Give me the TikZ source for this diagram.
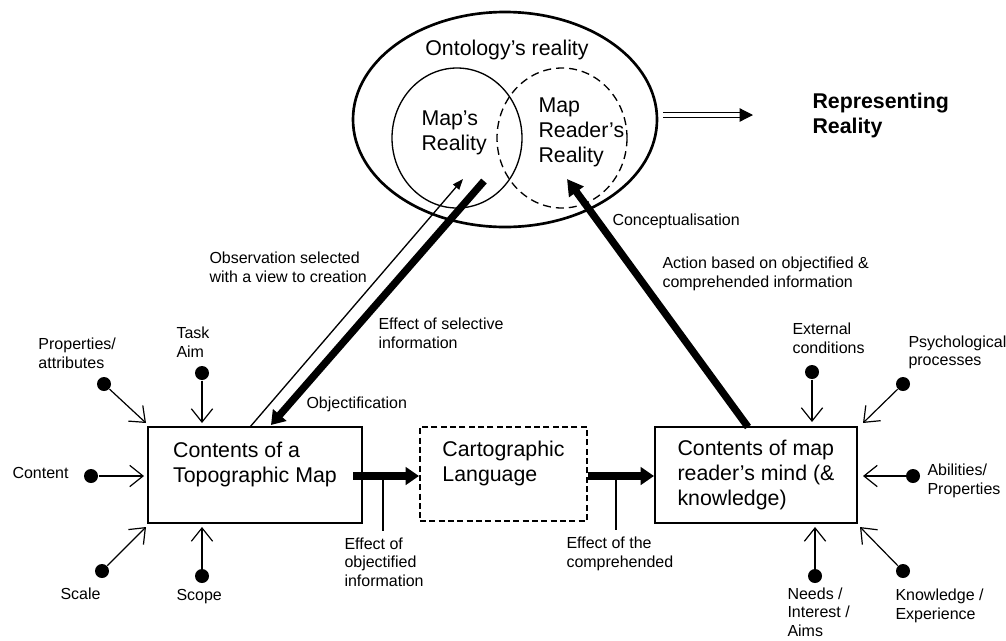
\documentclass[tikz,border=0pt]{standalone}
\usepackage{fontspec}
\setmainfont{Liberation Sans}
\usetikzlibrary{arrows.meta,shapes.geometric}

\tikzset{every picture/.style={line width=0.75pt}}
\tikzset{
  lbl/.style={font=\fontsize{12}{14}\selectfont, inner sep=0pt, align=left, anchor=west},
  bigtxt/.style={font=\fontsize{16}{18.75}\selectfont, inner sep=0pt, align=left},
  mapbox/.style={draw, line width=1.5pt, bigtxt, minimum height=72pt},
  dot/.style={circle, fill=black, inner sep=0pt, minimum size=10.5pt},
  feed/.style={line width=0.9pt, -{Straight Barb[length=5pt,width=8pt,scale=2]}},
  fatarrow/.style={line width=5.5pt, -{Triangle[length=10pt,width=13pt]}},
  tap/.style={line width=1pt}
}

\begin{document}
\begin{tikzpicture}[x=0.75pt,y=0.75pt,yscale=-1,xscale=1]
\useasboundingbox (0,0) rectangle (1006,640);

%Shape: Ellipse [id:onto]
\node [ellipse, draw, line width=2pt, inner sep=0pt, minimum width=228pt, minimum height=161.25pt] (onto) at (505,119.5) {};
%Shape: Ellipse [id:mapreal]
\node [ellipse, draw, line width=1pt, inner sep=0pt, minimum width=97.5pt, minimum height=105pt] (mapreal) at (457,138) {};
%Shape: Ellipse [id:readreal]
\node [ellipse, draw, line width=1pt, dash pattern={on 6pt off 3.75pt}, inner sep=0pt, minimum width=97.5pt, minimum height=105pt] (readreal) at (562,138) {};

% Text Node
\node [bigtxt] (ontotxt) at (507,50) {Ontology’s reality};
% Text Node
\node [bigtxt, anchor=west] (maptxt) at (421,133) {Map’s\\Reality};
% Text Node
\node [bigtxt, anchor=west] (readtxt) at (538,132) {Map\\Reader’s\\Reality};
% Text Node
\node [bigtxt, anchor=west, font=\fontsize{16}{18.75}\selectfont\bfseries] (repr) at (812,115) {Representing\\Reality};

%Double arrow
\coordinate (reprA) at (663,115);
\coordinate (reprB) at (753,115);
\draw [line width=0.9pt, double, double distance=2.5pt, -{Triangle[length=10pt,width=10pt]}] (reprA) -- (reprB);

%Boxes
\node [mapbox, minimum width=160.5pt] (topo) at (255,475) {Contents of a\\Topographic Map\\~};
\node [mapbox, minimum width=125.25pt, minimum height=70.5pt, dash pattern={on 4.5pt off 2.5pt}] (carto) at (503.5,474) {Cartographic\\Language\\~};
\node [mapbox, minimum width=151.5pt] (mind) at (756,475) {Contents of map\\reader’s mind (\&\\knowledge)};

%Straight Lines [id:obs]
\coordinate (obsA) at (250,427);
\coordinate (obsB) at (463,179);
\draw [line width=1pt, -{Triangle[length=8pt,width=6pt]}] (obsA) -- (obsB);
%Straight Lines [id:objectif]
\coordinate (objA) at (484,181);
\coordinate (objB) at (271,425);
\draw [fatarrow] (objA) -- (objB);
%Straight Lines [id:action]
\coordinate (actA) at (748,427);
\coordinate (actB) at (567,179);
\draw [fatarrow, -{Triangle[length=12pt,width=13pt]}] (actA) -- (actB);

%Straight Lines [id:flow]
\coordinate (flowA) at (353,476);
\draw [fatarrow] (flowA) -- (carto.west |- flowA);
\draw [fatarrow] (carto.east |- flowA) -- (mind.west |- flowA);
%Straight Lines [id:taps]
\coordinate (tapA) at (383,476);
\coordinate (tapAe) at (383,531);
\draw [tap] (tapA) -- (tapAe);
\coordinate (tapB) at (616,476);
\coordinate (tapBe) at (616,530);
\draw [tap] (tapB) -- (tapBe);

% Text Node
\node [lbl] (obstxt) at (209,267.5) {Observation selected\\with a view to creation};
% Text Node
\node [lbl] (seltxt) at (378,333) {Effect of selective\\information};
% Text Node
\node [lbl] (objtxt) at (306,404) {Objectification};
% Text Node
\node [lbl] (contxt) at (612,221) {Conceptualisation};
% Text Node
\node [lbl] (acttxt) at (662,274) {Action based on objectified \&\\comprehended information};
% Text Node
\node [lbl] (efftxt) at (344,562) {Effect of\\objectified\\information};
% Text Node
\node [lbl] (comptxt) at (566,554) {Effect of the\\comprehended};

%Inputs to the map
\node [dot] (prop) at (104,384) {};
\coordinate (propE) at (146,423);
\draw [feed] (prop) -- (propE);
\node [lbl] (proptxt) at (38,353.5) {Properties/\\attributes};

\node [dot] (task) at (202,373) {};
\coordinate (taskE) at (202,423);
\draw [feed] (task) -- (taskE);
\node [lbl] (tasktxt) at (176,342.5) {Task\\Aim};

\node [dot] (cont) at (91,476) {};
\coordinate (contE) at (144,476);
\draw [feed] (cont) -- (contE);
\node [lbl] (conttxt) at (12,473) {Content};

\node [dot] (scale) at (102,571) {};
\coordinate (scaleE) at (146,527);
\draw [feed] (scale) -- (scaleE);
\node [lbl] (scaletxt) at (60,594) {Scale};

\node [dot] (scope) at (202,576) {};
\coordinate (scopeE) at (202,527);
\draw [feed] (scope) -- (scopeE);
\node [lbl] (scopetxt) at (176,597) {Scope};

%Inputs to the reader
\node [dot] (ext) at (812,372) {};
\coordinate (extE) at (812,422);
\draw [feed] (ext) -- (extE);
\node [lbl] (exttxt) at (792,338.5) {External\\conditions};

\node [dot] (psy) at (903,384) {};
\coordinate (psyE) at (863,423);
\draw [feed] (psy) -- (psyE);
\node [lbl] (psytxt) at (908,352.5) {Psychological\\processes};

\node [dot] (abil) at (913,476) {};
\coordinate (abilE) at (863,476);
\draw [feed] (abil) -- (abilE);
\node [lbl] (abiltxt) at (927,481) {Abilities/\\Properties};

\node [dot] (need) at (815,576) {};
\coordinate (needE) at (815,527);
\draw [feed] (need) -- (needE);
\node [lbl] (needtxt) at (787,612) {Needs /\\Interest /\\Aims};

\node [dot] (know) at (903,571) {};
\coordinate (knowE) at (860,527);
\draw [feed] (know) -- (knowE);
\node [lbl] (knowtxt) at (895,606) {Knowledge /\\Experience};
\end{tikzpicture}
\end{document}
